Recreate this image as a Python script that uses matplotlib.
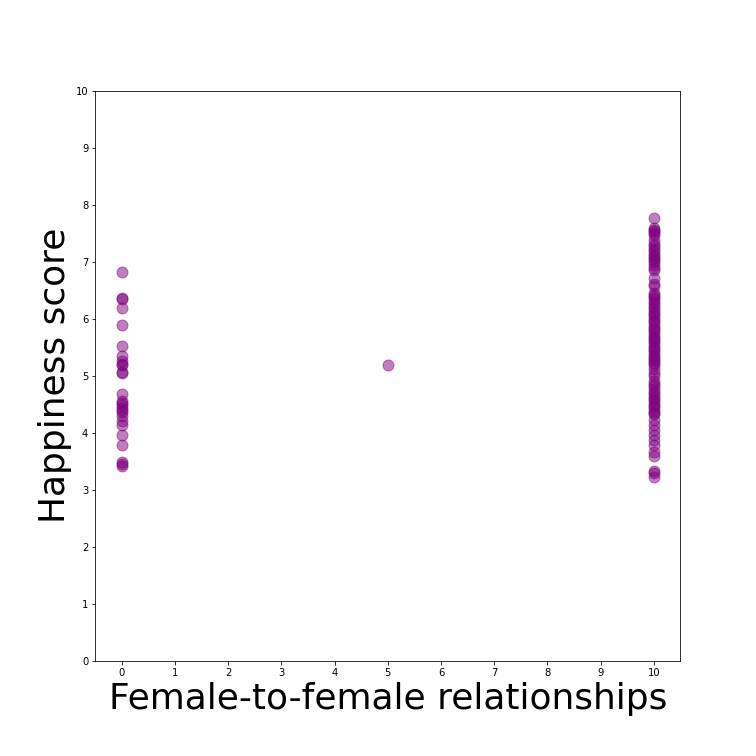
import matplotlib
matplotlib.use('Agg')
import matplotlib.pyplot as plt

# scores for countries where same-sex relations are illegal (0), mixed (5), legal (10)
scores_illegal = [6.82, 6.37, 6.35, 6.19, 5.89, 5.52, 5.34, 5.26, 5.21, 5.19, 5.07, 5.04,
                  4.68, 4.55, 4.52, 4.48, 4.44, 4.40, 4.36, 4.30, 4.20, 4.14, 3.96, 3.78,
                  3.49, 3.45, 3.42]
scores_mixed = [5.19]
scores_legal = [7.77, 7.59, 7.56, 7.54, 7.50, 7.47, 7.38, 7.31, 7.28, 7.23, 7.19, 7.14,
                7.10, 7.06, 7.03, 6.99, 6.95, 6.89, 6.85, 6.72, 6.61, 6.58, 6.46, 6.42,
                6.38, 6.34, 6.30, 6.25, 6.20, 6.17, 6.12, 6.09, 6.05, 6.00, 5.96, 5.92,
                5.88, 5.84, 5.80, 5.76, 5.72, 5.68, 5.64, 5.61, 5.57, 5.53, 5.49, 5.45,
                5.41, 5.37, 5.33, 5.29, 5.25, 5.22, 5.18, 5.12, 5.04, 4.99, 4.91, 4.86,
                4.82, 4.77, 4.72, 4.68, 4.63, 4.59, 4.55, 4.51, 4.47, 4.43, 4.39, 4.35,
                4.32, 4.23, 4.14, 4.05, 3.96, 3.88, 3.79, 3.66, 3.60, 3.33, 3.29, 3.22]

groups = [0, 5, 10]
values = [scores_illegal, scores_mixed, scores_legal]

xs = []
ys = []
for g, vals in zip(groups, values):
    xs += [g] * len(vals)
    ys += vals

fig = plt.figure(figsize=(10.5, 10.5), dpi=72)
ax = fig.add_axes([0.126, 0.126, 0.774, 0.754])
ax.scatter(xs, ys, s=120, color='purple', alpha=0.5)

ax.set_ylim(0, 10)
ax.set_xticks(range(0, 11))
ax.set_yticks(range(0, 11))
ax.set_xlabel('Female-to-female relationships', fontsize=36)
ax.set_ylabel('Happiness score', fontsize=36)

fig.savefig('out.png', dpi=72)
